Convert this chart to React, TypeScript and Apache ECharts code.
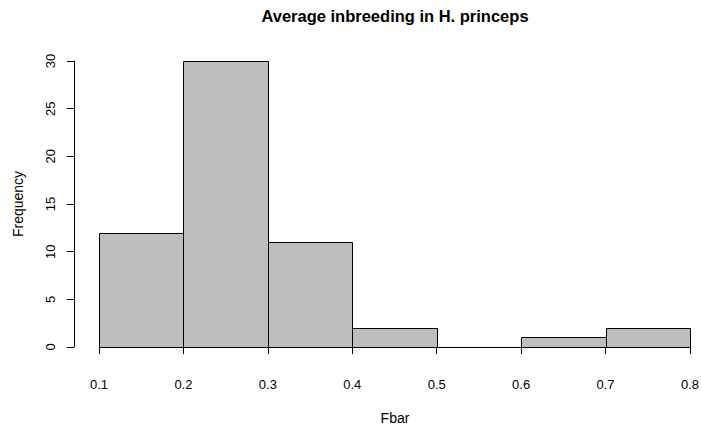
import React, { useEffect, useRef } from "react";
import * as echarts from "echarts";

const binStarts = [0.1, 0.2, 0.3, 0.4, 0.5, 0.6, 0.7];
const binWidth = 0.1;
const counts = [12, 30, 11, 2, 0, 1, 2];
const xTicks = [0.1, 0.2, 0.3, 0.4, 0.5, 0.6, 0.7, 0.8];
const titleText = "Average inbreeding in H. princeps";
const xTitle = "Fbar";
const yTitle = "Frequency";

const FONT = "'Liberation Sans', Arial, Helvetica, sans-serif";

export default function App() {
  const ref = useRef<HTMLDivElement>(null);
  useEffect(() => {
    document.body.style.margin = "0";
    if (!ref.current) return;
    const chart = echarts.init(ref.current, null, { renderer: "svg" });
    const data = binStarts.map((s, i) => [s, s + binWidth, counts[i]]);
    chart.setOption({
      animation: false,
      backgroundColor: "#ffffff",
      textStyle: { fontFamily: FONT },
      graphic: [
        {
          type: "text",
          x: 395,
          y: 16,
          style: {
            text: titleText,
            fontFamily: FONT,
            fontSize: 16.5,
            fontWeight: "bold",
            fill: "#000",
            textAlign: "center",
            textVerticalAlign: "middle",
          },
        },
        {
          type: "text",
          x: 18,
          y: 204,
          rotation: Math.PI / 2,
          style: {
            text: yTitle,
            fontFamily: FONT,
            fontSize: 14,
            fill: "#000",
            textAlign: "center",
            textVerticalAlign: "middle",
          },
        },
        {
          type: "text",
          x: 395,
          y: 418,
          style: {
            text: xTitle,
            fontFamily: FONT,
            fontSize: 14,
            fill: "#000",
            textAlign: "center",
            textVerticalAlign: "middle",
          },
        },
      ],
      grid: { left: 99, right: 11, top: 61, bottom: 83, containLabel: false },
      xAxis: {
        type: "value",
        min: 0.1,
        max: 0.8,
        interval: 0.1,
        offset: 13,
        splitLine: { show: false },
        axisLine: { show: true, lineStyle: { color: "#000", width: 1 } },
        axisTick: { show: true, length: 7, inside: false, lineStyle: { color: "#000" } },
        axisLabel: {
          color: "#000",
          fontSize: 13,
          fontFamily: FONT,
          margin: 18,
          showMinLabel: true,
          showMaxLabel: true,
          formatter: (v: number) => {
            const t = xTicks.find((x) => Math.abs(x - v) < 1e-9);
            return t !== undefined ? t.toFixed(1) : "";
          },
        },
      },
      yAxis: {
        type: "value",
        min: 0,
        max: 30,
        interval: 5,
        offset: 25,
        splitLine: { show: false },
        axisLine: { show: true, lineStyle: { color: "#000", width: 1 } },
        axisTick: { show: true, length: 7, lineStyle: { color: "#000" } },
        axisLabel: {
          color: "#000",
          fontSize: 13,
          fontFamily: FONT,
          rotate: 90,
          margin: 17,
        },
      },
      series: [
        {
          type: "custom",
          data,
          clip: false,
          renderItem: (params: any, api: any) => {
            const x0 = api.value(0);
            const x1 = api.value(1);
            const y = api.value(2);
            const p0 = api.coord([x0, 0]);
            const p1 = api.coord([x1, y]);
            return {
              type: "rect",
              shape: {
                x: Math.round(p0[0]) + 0.5,
                y: Math.round(p1[1]) + 0.5,
                width: Math.round(p1[0]) - Math.round(p0[0]),
                height: Math.round(p0[1]) - Math.round(p1[1]),
              },
              style: { fill: "#BEBEBE", stroke: "#000", lineWidth: 1 },
            };
          },
        },
      ],
    });
    return () => chart.dispose();
  }, []);
  return <div ref={ref} style={{ width: 702, height: 430 }} />;
}
